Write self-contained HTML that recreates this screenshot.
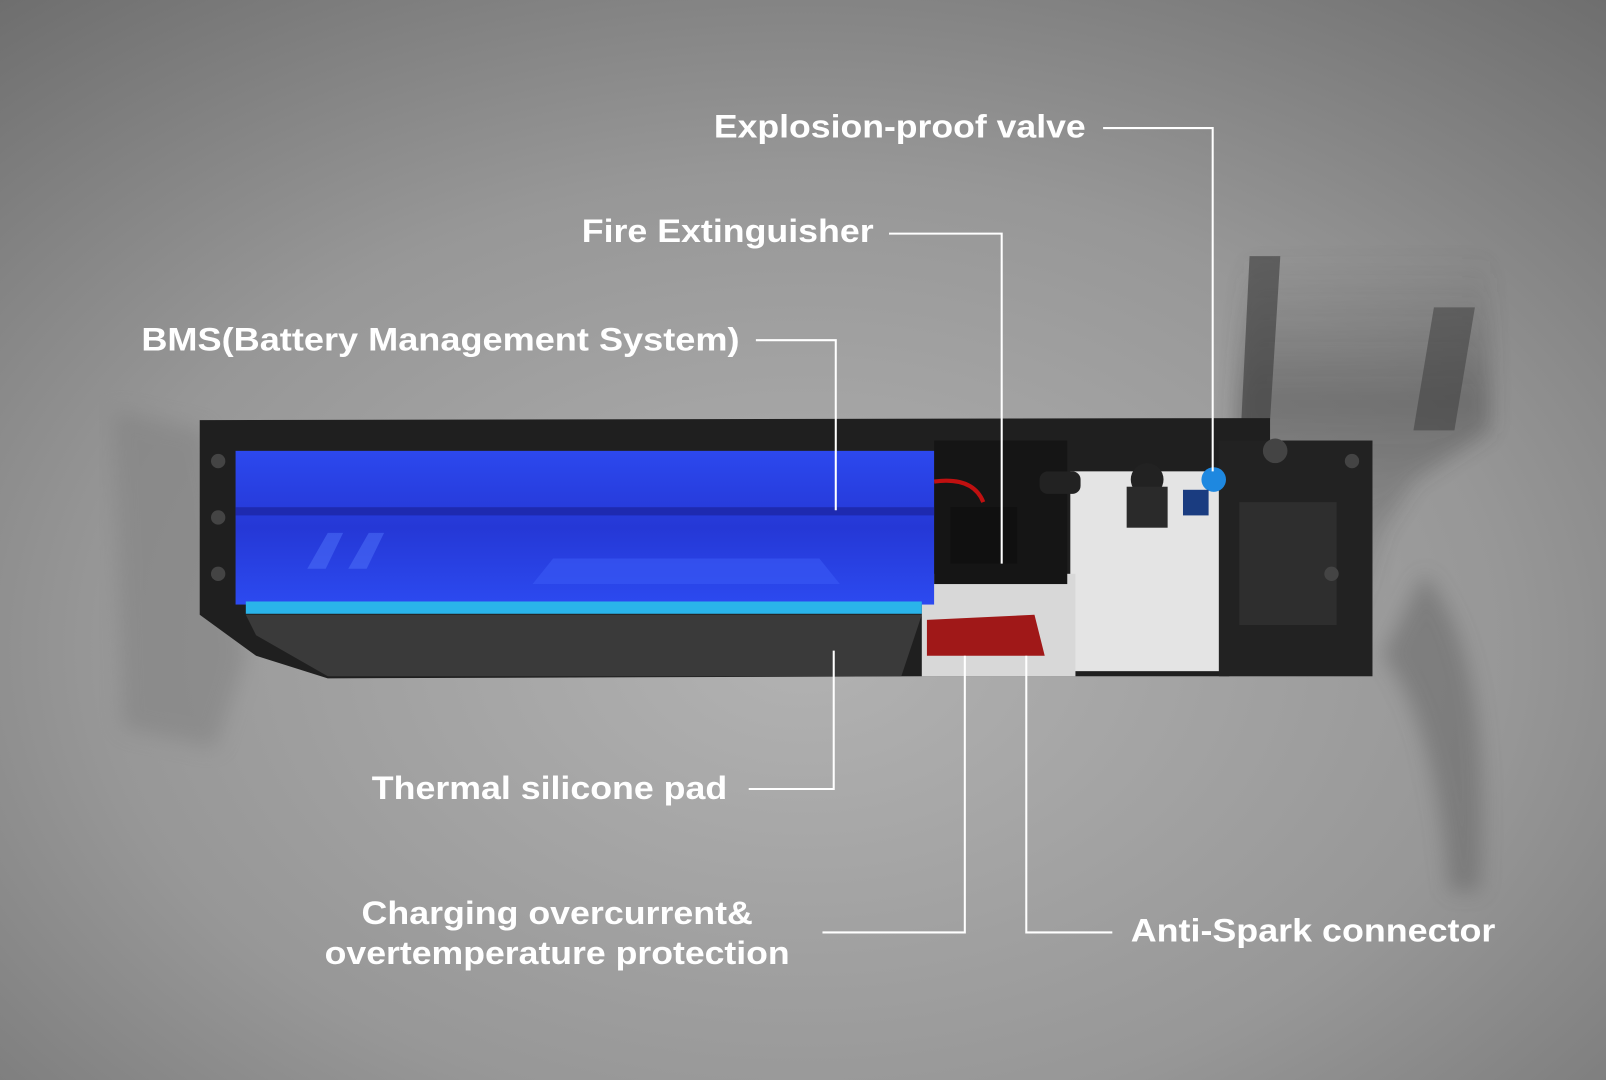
<!DOCTYPE html>
<html><head><meta charset="utf-8"><style>
html,body{margin:0;padding:0;width:1606px;height:1080px;overflow:hidden}
svg{display:block}
text{font-family:"Liberation Sans",sans-serif;font-weight:bold;fill:#fff;font-size:32px}
</style></head><body>
<svg width="1606" height="1080" viewBox="0 0 1568 1054" preserveAspectRatio="none">
<defs>
<radialGradient id="bg" cx="0.5" cy="0.6" r="0.8">
<stop offset="0" stop-color="#b2b2b2"/><stop offset="0.55" stop-color="#979797"/><stop offset="1" stop-color="#6c6c6c"/>
</radialGradient>
<linearGradient id="blue" x1="0" y1="0" x2="0" y2="1">
<stop offset="0" stop-color="#2c48ee"/><stop offset="0.5" stop-color="#2538d6"/><stop offset="1" stop-color="#2c4af0"/>
</linearGradient>
<linearGradient id="fade" x1="0" y1="0" x2="0" y2="1">
<stop offset="0" stop-color="#4a4a4a" stop-opacity="0"/><stop offset="0.35" stop-color="#3a3a3a" stop-opacity="0.55"/><stop offset="1" stop-color="#4a4a4a" stop-opacity="0"/>
</linearGradient>
<filter id="blur"><feGaussianBlur stdDeviation="10"/></filter>
</defs>
<rect width="1568" height="1054" fill="url(#bg)"/>
<!-- right fork -->
<g filter="url(#blur)" opacity="0.75">
<path d="M1215 250 L1455 245 L1455 420 L1380 470 L1350 520 L1320 640 L1260 660 L1200 560 Z" fill="url(#fade)"/>
<path d="M1390 560 Q1460 640 1445 870 L1415 870 Q1400 700 1350 640 Z" fill="#5a5a5a" opacity="0.6"/>
</g>
<path d="M1220 250 L1250 250 L1240 410 L1212 410 Z" fill="#3a3a3a" opacity="0.6"/>
<path d="M1400 300 L1440 300 L1420 420 L1380 420 Z" fill="#3a3a3a" opacity="0.5"/>
<!-- left blur -->
<path d="M110 400 L200 420 L240 640 L210 730 L120 710 Z" fill="#7e7e7e" opacity="0.5" filter="url(#blur)"/>
<!-- battery frame -->
<path d="M195 410 L1240 408 L1240 430 L1340 430 L1330 520 L1310 600 L1200 660 L900 660 L320 662 L250 640 L195 600 Z" fill="#1f1f1f"/>
<rect x="1045" y="460" width="165" height="195" fill="#e4e4e4"/>
<rect x="900" y="560" width="150" height="100" fill="#d8d8d8"/>
<rect x="912" y="430" width="130" height="140" fill="#151515"/>
<rect x="928" y="495" width="65" height="55" fill="#101010"/>
<path d="M905 605 L1010 600 L1020 640 L905 640 Z" fill="#a01818"/>
<path d="M912 470 Q950 465 960 490" stroke="#c01010" stroke-width="4" fill="none"/>
<rect x="1190" y="430" width="150" height="230" fill="#222"/>
<rect x="1210" y="490" width="95" height="120" fill="#2e2e2e"/>
<g fill="#444"><circle cx="213" cy="450" r="7"/><circle cx="213" cy="505" r="7"/><circle cx="213" cy="560" r="7"/><circle cx="1300" cy="560" r="7"/><circle cx="1320" cy="450" r="7"/><circle cx="1245" cy="440" r="12"/></g>
<!-- battery -->
<rect x="230" y="440" width="682" height="150" fill="url(#blue)"/>
<rect x="230" y="495" width="682" height="8" fill="#1e2ab0"/>
<path d="M520 570 L540 545 L800 545 L820 570 Z" fill="#3a5af5" opacity="0.6"/>
<path d="M300 555 L320 520 L335 520 L318 555 Z M340 555 L360 520 L375 520 L358 555 Z" fill="#4a6af5" opacity="0.6"/>
<rect x="240" y="587" width="660" height="12" fill="#2ab4ea"/>
<path d="M240 600 L900 600 L880 660 L320 660 L250 620 Z" fill="#3a3a3a"/>
<circle cx="1185" cy="468" r="12" fill="#1e88e0"/>
<rect x="1155" y="478" width="25" height="25" fill="#1a3c80"/>
<circle cx="1120" cy="468" r="16" fill="#222"/>
<rect x="1100" y="475" width="40" height="40" fill="#2a2a2a"/>
<rect x="1015" y="460" width="40" height="22" rx="8" fill="#222"/>
<!-- connectors -->
<g stroke="#fff" stroke-width="2" fill="none">
<polyline points="1077,125 1184,125 1184,460"/>
<polyline points="868,228 978,228 978,550"/>
<polyline points="738,332 816,332 816,498"/>
<polyline points="731,770 814,770 814,635"/>
<polyline points="803,910 942,910 942,640"/>
<polyline points="1086,910 1002,910 1002,640"/>
</g>
<text x="697" y="134" textLength="363" lengthAdjust="spacingAndGlyphs">Explosion-proof valve</text>
<text x="568" y="236" textLength="285" lengthAdjust="spacingAndGlyphs">Fire Extinguisher</text>
<text x="138" y="342" textLength="584" lengthAdjust="spacingAndGlyphs">BMS(Battery Management System)</text>
<text x="363" y="780" textLength="347" lengthAdjust="spacingAndGlyphs">Thermal silicone pad</text>
<text x="353" y="902" textLength="382" lengthAdjust="spacingAndGlyphs">Charging overcurrent&amp;</text>
<text x="317" y="941" textLength="454" lengthAdjust="spacingAndGlyphs">overtemperature protection</text>
<text x="1104" y="919" textLength="356" lengthAdjust="spacingAndGlyphs">Anti-Spark connector</text>
</svg>
</body></html>
